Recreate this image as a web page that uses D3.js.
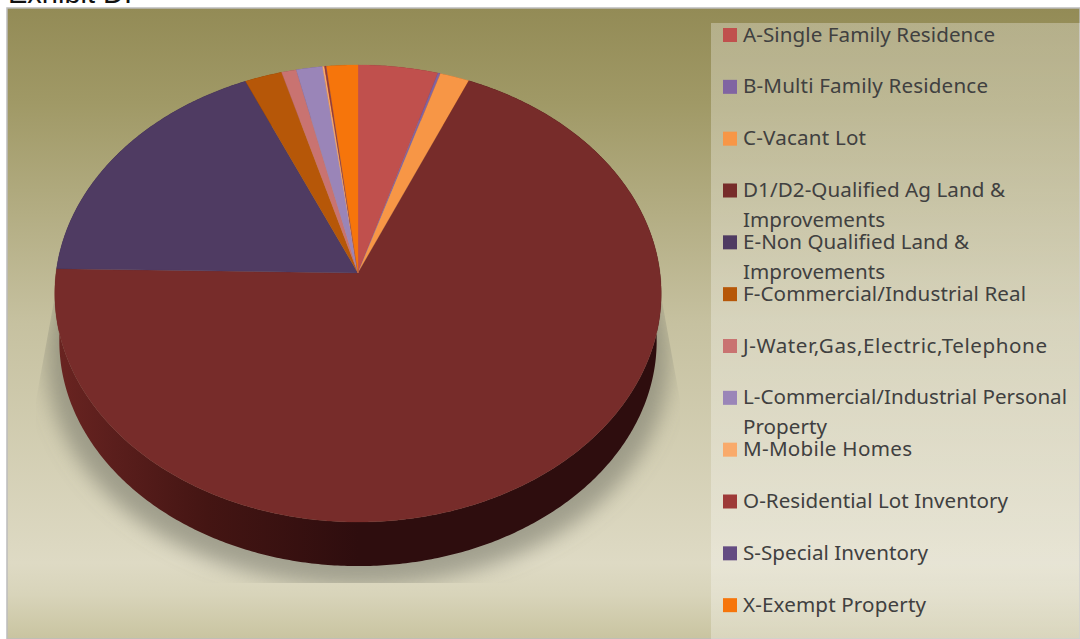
<!DOCTYPE html>
<html>
<head>
<meta charset="utf-8">
<script src="https://cdn.jsdelivr.net/npm/d3@7"></script>
<style>
  html, body { margin: 0; padding: 0; background: #fff; overflow: hidden; }
  text { font-family: "Noto Sans", sans-serif; }
</style>
</head>
<body>
<div id="chart"></div>
<script>
// values, percent of total
var categories = ["A-Single Family Residence", "B-Multi Family Residence", "C-Vacant Lot",
  "D1/D2-Qualified Ag Land & Improvements", "E-Non Qualified Land & Improvements",
  "F-Commercial/Industrial Real", "J-Water,Gas,Electric,Telephone",
  "L-Commercial/Industrial Personal Property", "M-Mobile Homes",
  "O-Residential Lot Inventory", "S-Special Inventory", "X-Exempt Property"];
var shares = [4.64, 0.15, 1.71, 68.8, 18.1, 2.17, 0.86, 1.53, 0.11, 0.09, 0.02, 1.82];
var sliceColors = ["#c0504d", "#8064a2", "#f79646", "#772c2a", "#4f3b62", "#b65708",
  "#c97371", "#9a85b8", "#f9aa6b", "#9e3a38", "#644c82", "#f6750b"];
// legend text is wrapped by hand, same breaks as the original
var legendLines = [["A-Single Family Residence"], ["B-Multi Family Residence"], ["C-Vacant Lot"],
  ["D1/D2-Qualified Ag Land &", "Improvements"], ["E-Non Qualified Land &", "Improvements"],
  ["F-Commercial/Industrial Real"], ["J-Water,Gas,Electric,Telephone"],
  ["L-Commercial/Industrial Personal", "Property"], ["M-Mobile Homes"],
  ["O-Residential Lot Inventory"], ["S-Special Inventory"], ["X-Exempt Property"]];
// the original font runs wider in places, so each line is fitted to its measured width
var legendWidths = [[252], [245], [123], [262, 142], [226, 142], [283], [304], [324, 84], [169], [265], [185], [183]];

var width = 1080, height = 639;
var svg = d3.select("#chart").append("svg").attr("width", width).attr("height", height);
var defs = svg.append("defs");

function vGradient(id, stops){
  var g = defs.append("linearGradient").attr("id", id).attr("x1", 0).attr("y1", 0).attr("x2", 0).attr("y2", 1);
  stops.forEach(function(s){
    g.append("stop").attr("offset", s[0]).attr("stop-color", s[1]).attr("stop-opacity", s[2] === undefined ? 1 : s[2]);
  });
}
vGradient("bg", [[0, "#938b56"], [0.15, "#a09966"], [0.5, "#c6c1a0"], [0.88, "#dedac4"], [0.93, "#d8d4ba"], [1, "#c9c4a0"]]);
vGradient("legendBg", [[0, "#ffffff", 0.3], [0.5, "#ffffff", 0.3], [0.85, "#ffffff", 0.28], [1, "#ffffff", 0.3]]);

var wallGrad = defs.append("linearGradient").attr("id", "wall").attr("gradientUnits", "userSpaceOnUse")
  .attr("x1", 55).attr("y1", 0).attr("x2", 661).attr("y2", 0);
[[0, "#6a2421"], [0.1, "#5a1e1c"], [0.25, "#441513"], [0.5, "#2e0d0e"], [1, "#2e0d0e"]].forEach(function(s){
  wallGrad.append("stop").attr("offset", s[0]).attr("stop-color", s[1]);
});

defs.append("filter").attr("id", "soft").attr("x", "-10%").attr("y", "-10%").attr("width", "120%").attr("height", "120%")
  .append("feGaussianBlur").attr("stdDeviation", 10);

// chart area + border
svg.append("rect").attr("x", 7).attr("y", 8).attr("width", 1073).attr("height", 631)
  .attr("fill", "url(#bg)").attr("stroke", "#bcbcbc").attr("stroke-width", 1.5);

// cut-off heading at the very top
svg.append("text").attr("x", 8).attr("y", 3).text("Exhibit D:")
  .style("font-family", "Liberation Sans").style("font-size", "29px").attr("fill", "#111");

// perspective of the tilted disc, apex is not the middle of the ellipse
var apexX = 358, apexY = 273, radiusX = 302, tiltY = 226.7, tilt = -0.0897;
var wallDrop = 47.5, wallScale = 0.985, midY = 293.5;
function topPoint(a){
  var u = -Math.cos(a), w = 1 + tilt * u;
  return [apexX + radiusX * Math.sin(a) / w, apexY + tiltY * u / w];
}
function wallPoint(a){
  var p = topPoint(a);
  return [apexX + (p[0] - apexX) * wallScale, midY + wallDrop + (p[1] - midY) * wallScale];
}
function arcSamples(s, e, fn){
  var n = Math.max(2, Math.ceil((e - s) / 0.01));
  return d3.range(n + 1).map(function(i){ return fn(s + (e - s) * i / n); });
}

var pie = d3.pie().sort(null).value(function(d){ return d; });
var slices = pie(shares);
var line = d3.line();

// ground shadow, cut the way the original cuts it
var shadowClip = line([[660, 290], [680, 400], [680, 583], [36, 583], [36, 400], [56, 290]]) + "Z";
defs.append("clipPath").attr("id", "shadowClip").append("path").attr("d", shadowClip);
svg.append("g").attr("clip-path", "url(#shadowClip)")
  .append("path")
  .attr("d", line(arcSamples(0, 2 * Math.PI, function(a){
    var p = wallPoint(a);
    return [apexX + (p[0] - apexX) * 1.04, p[1] + 20];
  })) + "Z")
  .attr("fill", "#7a7a6c").attr("fill-opacity", 0.6).attr("filter", "url(#soft)");

// side wall
svg.append("g").selectAll("path").data(slices).enter().append("path")
  .attr("d", function(d){
    var outer = arcSamples(d.startAngle, d.endAngle, topPoint);
    var lower = arcSamples(d.startAngle, d.endAngle, wallPoint).reverse();
    return line(outer.concat(lower)) + "Z";
  })
  .attr("fill", function(d, i){ return i == 3 ? "url(#wall)" : d3.color(sliceColors[i]).darker(1.5); });

// top face
svg.append("g").selectAll("path").data(slices).enter().append("path")
  .attr("d", function(d){
    return line([[apexX, apexY]].concat(arcSamples(d.startAngle, d.endAngle, topPoint))) + "Z";
  })
  .attr("fill", function(d, i){ return sliceColors[i]; })
  .attr("stroke", function(d, i){ return sliceColors[i]; })
  .attr("stroke-width", 0.3);

// legend
svg.append("rect").attr("x", 711).attr("y", 23).attr("width", 369).attr("height", 616).attr("fill", "url(#legendBg)");

var legendY = d3.scaleBand().domain(d3.range(categories.length)).range([9, 631]);
var legend = svg.append("g").selectAll("g").data(categories).enter().append("g")
  .attr("transform", function(d, i){ return "translate(723," + (legendY(i) + 26) + ")"; });
legend.append("rect").attr("y", -7).attr("width", 14).attr("height", 14)
  .attr("fill", function(d, i){ return sliceColors[i]; });
legend.each(function(d, i){
  var row = d3.select(this);
  legendLines[i].forEach(function(t, k){
    row.append("text").attr("x", 20).attr("y", 6.5 + k * 30).text(t)
      .attr("textLength", legendWidths[i][k]).attr("lengthAdjust", "spacing")
      .attr("fill", "#404040").style("font-size", "20.6px");
  });
});
</script>
</body>
</html>
